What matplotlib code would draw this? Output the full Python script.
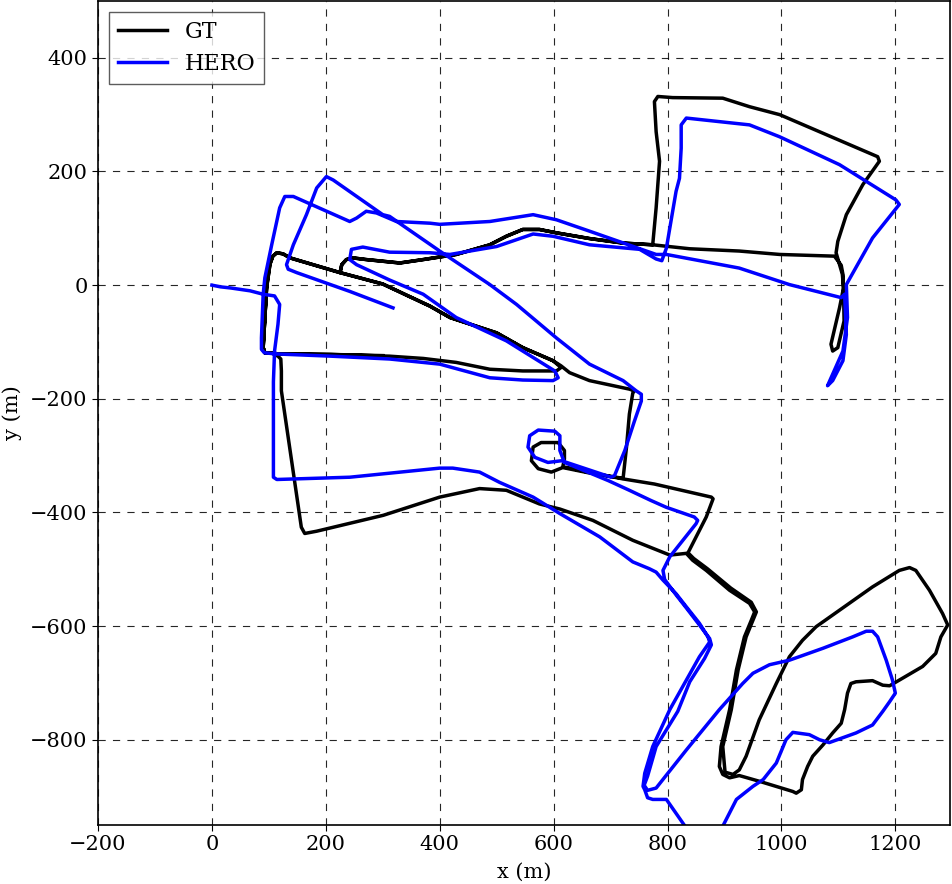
import numpy as np
import matplotlib
matplotlib.use("Agg")
import matplotlib.pyplot as plt

# ground truth route, split in legs (x, y in metres)
gt_leg1 = [(96, -5), (93, -57), (90, -110), (93, -119), (104, -119), (116, -121), (209, -122),
           (312, -125), (371, -129), (429, -136), (488, -148), (546, -151), (605, -151), (613, -145),
           (599, -133), (546, -110), (500, -84), (418, -57), (383, -37), (300, 2), (225, 22),
           (228, 36), (236, 45), (247, 48), (271, 45), (330, 39), (371, 45), (429, 54), (488, 71),
           (517, 86), (546, 98), (575, 98), (605, 92), (663, 82), (722, 74), (774, 71), (839, 64),
           (926, 60), (997, 54), (1093, 51)]
gt_leg2 = [(1105, 35), (1108, 19), (1109, -5), (1102, -40), (1087, -104), (1090, -116), (1099, -110),
           (1110, -63), (1109, -5), (1107, 19), (1096, 57), (1099, 77), (1114, 124), (1143, 177),
           (1172, 218), (1169, 226), (1067, 270), (997, 300), (944, 314), (897, 329), (809, 330),
           (783, 332), (777, 323), (780, 270), (786, 218), (780, 136), (774, 71)]
gt_leg3 = [(722, 74), (663, 82), (605, 92), (575, 98), (546, 98), (517, 86), (488, 71), (429, 54),
           (371, 45), (330, 39), (271, 45), (247, 48), (236, 45), (228, 36), (225, 22), (137, 48),
           (125, 55), (114, 57), (107, 51), (102, 37), (96, -5), (93, -57), (90, -110), (93, -119),
           (104, -119), (116, -125), (121, -130), (122, -151), (122, -186), (157, -426), (163, -437),
           (184, -433), (301, -405), (400, -373), (470, -358), (517, -361), (575, -385), (611, -394),
           (669, -414), (739, -449), (804, -475), (833, -472)]
gt_leg4 = [(844, -484), (868, -502), (909, -537), (944, -560), (953, -575), (947, -590), (935, -619),
           (921, -677), (909, -747), (894, -812), (891, -847), (897, -861), (909, -867), (926, -863),
           (961, -873), (1020, -891), (1026, -894), (1035, -888), (1037, -870), (1046, -847),
           (1055, -829), (1073, -809), (1090, -788), (1105, -771), (1111, -747), (1116, -718),
           (1122, -701), (1131, -698), (1160, -696), (1178, -704), (1190, -705), (1207, -695),
           (1248, -671), (1271, -648), (1280, -619), (1292, -598), (1283, -578), (1260, -537),
           (1236, -502), (1225, -497), (1207, -502), (1160, -531), (1102, -572), (1061, -601),
           (1037, -625), (1014, -654), (991, -701), (961, -765), (938, -829), (926, -853), (915, -861),
           (901, -857), (897, -812), (912, -747), (924, -677), (938, -619), (950, -590), (956, -575),
           (947, -558), (911, -533), (870, -499), (846, -481), (836, -471)]
gt_leg5 = [(868, -408), (880, -376), (877, -373), (777, -350), (722, -341), (660, -329), (625, -321),
           (616, -320), (619, -306), (619, -291), (608, -277), (578, -277), (564, -285), (561, -309),
           (573, -323), (596, -329), (616, -321), (660, -330), (722, -340), (728, -285), (733, -227),
           (739, -190), (742, -186), (733, -183), (663, -168), (628, -154), (613, -142), (599, -133),
           (546, -110), (500, -84), (418, -57), (383, -37), (300, 2), (225, 22), (137, 48), (125, 55),
           (114, 57), (107, 51), (102, 37), (96, -5), (93, -57), (90, -110), (93, -119), (104, -119),
           (116, -121), (209, -122), (300, -124)]

# HERO estimate, same drive
hero_leg1 = [(0, 0), (15, -3), (33, -5), (67, -10), (90, -16), (87, -93), (87, -113), (92, -119),
             (111, -121), (209, -125), (312, -130), (400, -139), (488, -163), (546, -167), (599, -168),
             (608, -163), (602, -151), (517, -98), (429, -57), (371, -16), (312, 9), (254, 36),
             (242, 45), (245, 63), (265, 67), (312, 58), (383, 57), (418, 54), (500, 68), (564, 90),
             (599, 86), (663, 71), (751, 63), (780, 46), (790, 43)]
hero_leg2 = [(798, 65), (815, 165), (821, 188), (824, 241), (824, 282), (833, 294), (944, 282),
             (997, 261), (1102, 212), (1201, 150), (1207, 142), (1160, 83), (1137, 42), (1114, 1),
             (1116, -57), (1108, -116), (1081, -177), (1090, -168), (1108, -133), (1114, -87),
             (1111, -16), (1105, -22), (1014, 1), (926, 30), (798, 54), (780, 54), (663, 95),
             (605, 115), (564, 124), (488, 112), (400, 107), (383, 109), (324, 112), (289, 127),
             (271, 130), (254, 118), (242, 112), (143, 156), (128, 156), (119, 136), (105, 71),
             (93, 13), (90, -16)]
hero_leg3 = [(110, -19), (119, -34), (116, -69), (110, -116), (108, -170), (108, -205), (108, -338),
             (114, -342), (242, -338), (400, -322), (423, -322), (470, -329), (505, -347), (564, -373),
             (611, -402), (681, -443), (739, -487), (768, -499), (780, -505), (792, -519), (815, -543),
             (833, -566), (856, -595), (871, -619), (874, -628), (856, -654), (833, -695), (804, -747),
             (774, -812), (760, -859), (757, -882), (760, -888), (765, -902), (774, -905), (798, -905),
             (839, -964), (865, -995), (891, -964), (921, -905), (950, -882), (968, -870), (991, -841),
             (1008, -800), (1020, -787), (1049, -791), (1067, -800), (1084, -805), (1131, -788),
             (1160, -774), (1178, -750), (1190, -733), (1200, -718), (1195, -695), (1184, -660),
             (1169, -619), (1160, -609), (1149, -609), (1125, -619), (1073, -639), (1014, -660),
             (979, -668), (950, -683), (932, -701), (891, -747), (833, -818), (792, -870), (780, -885),
             (765, -889), (759, -880), (765, -864), (780, -812), (818, -750), (839, -698), (865, -657),
             (877, -633), (874, -622), (856, -598), (833, -568), (815, -545), (795, -518), (792, -502),
             (804, -478), (850, -420), (853, -414), (847, -408), (798, -391), (771, -379), (733, -361),
             (696, -344), (619, -312), (611, -291), (611, -265), (602, -257), (573, -255), (558, -265),
             (555, -285), (567, -303), (590, -312), (614, -309), (701, -338), (707, -335), (725, -291),
             (742, -239), (754, -204), (754, -192), (745, -186), (722, -168), (663, -139), (605, -93),
             (535, -34), (488, 1), (400, 60), (312, 121), (300, 124), (213, 185), (201, 191),
             (184, 171), (166, 124), (143, 71), (131, 36), (134, 28), (149, 22), (242, -11), (318, -40)]

gt = np.array(gt_leg1 + gt_leg2 + gt_leg3 + gt_leg4 + gt_leg5, dtype=float)
hero = np.array(hero_leg1 + hero_leg2 + hero_leg3, dtype=float)

plt.rcParams['font.family'] = 'serif'
plt.rcParams['font.serif'] = ['DejaVu Serif']
plt.rcParams['font.size'] = 15

fig = plt.figure(figsize=(9.52, 8.84), dpi=100)
ax = fig.add_axes([98 / 952, 59 / 884, 852 / 952, 824 / 884])

ax.plot(gt[:, 0], gt[:, 1], color='k', lw=2.5, label='GT', solid_joinstyle='round')
ax.plot(hero[:, 0], hero[:, 1], color='b', lw=2.5, label='HERO', solid_joinstyle='round')

ax.set_xlim(-200, 1296)
ax.set_ylim(-950, 500)
ax.set_xticks(np.arange(-200, 1201, 200))
ax.set_yticks(np.arange(-800, 401, 200))
ax.grid(True, color='k', ls=(0, (6.5, 6.5)), lw=0.8, alpha=0.85)
ax.tick_params(direction='out', length=4)
for s in ax.spines.values():
    s.set_linewidth(1.2)

ax.set_xlabel('x (m)', labelpad=6)
ax.set_ylabel('y (m)', labelpad=6)

leg = ax.legend(loc='upper left', fancybox=False, framealpha=0.8, edgecolor='0.2',
                handlelength=2.2, borderaxespad=0.5, fontsize=16, labelspacing=0.45)
leg.get_frame().set_linewidth(1.0)

fig.savefig('out.png', dpi=100)
